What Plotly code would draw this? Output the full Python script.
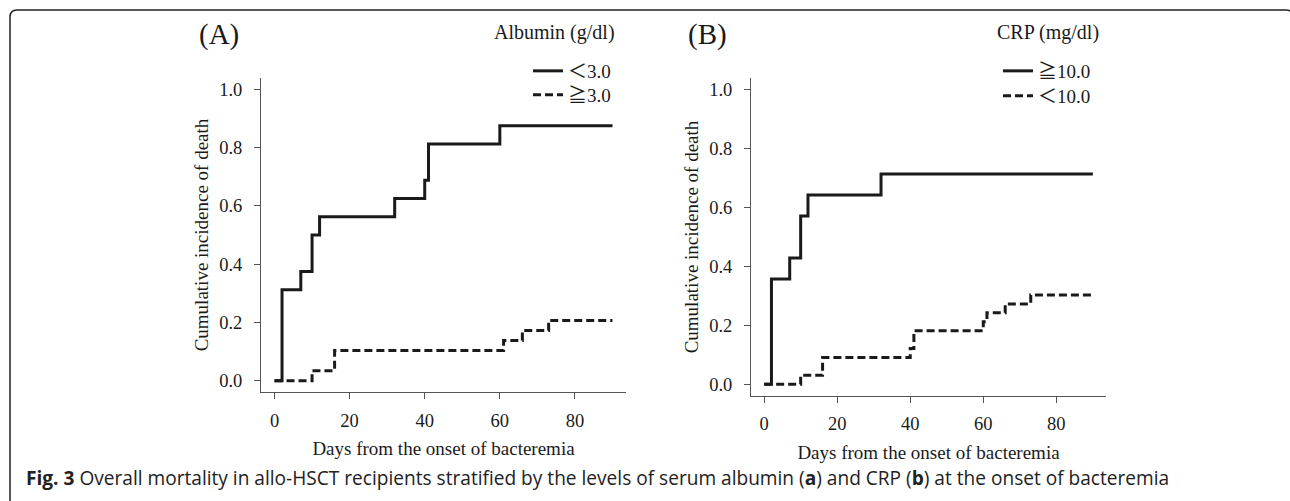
import plotly.graph_objects as go

# ---------------- data ----------------
days_alb_low = [0, 2, 7, 10, 12, 32, 40, 41, 60, 90]
cif_alb_low = [0.0, 0.3125, 0.375, 0.5, 0.5625, 0.625, 0.6875, 0.8125, 0.875, 0.875]

days_alb_high = [0, 10, 16, 61, 66, 73, 90]
cif_alb_high = [0.0, 0.0345, 0.1034, 0.1379, 0.1724, 0.2069, 0.2069]

days_crp_high = [0, 2, 7, 10, 12, 32, 90]
cif_crp_high = [0.0, 0.3571, 0.4286, 0.5714, 0.6429, 0.7143, 0.7143]

days_crp_low = [0, 10, 16, 40, 41, 60, 61, 66, 73, 90]
cif_crp_low = [0.0, 0.0303, 0.0909, 0.1212, 0.1818, 0.2121, 0.2424, 0.2727, 0.3030, 0.3030]

x_ticks = [0, 20, 40, 60, 80]
y_ticks = [0.0, 0.2, 0.4, 0.6, 0.8, 1.0]
y_tick_text = ["0.0", "0.2", "0.4", "0.6", "0.8", "1.0"]

labels_alb = ["＜3.0", "≧3.0"]
labels_crp = ["≧10.0", "＜10.0"]
legend_title_alb = "Albumin (g/dl)"
legend_title_crp = "CRP (mg/dl)"
x_title = "Days from the onset of bacteremia"
y_title = "Cumulative incidence of death"
caption = ("<b>Fig. 3</b> Overall mortality in allo-HSCT recipients stratified by the levels of "
           "serum albumin (<b>a</b>) and CRP (<b>b</b>) at the onset of bacteremia")

# ---------------- layout helpers ----------------
W, H = 1290, 501


def px(x):
    return x / W


def py(y):
    return 1 - y / H


SERIF = "Liberation Serif, Times New Roman, Noto Sans CJK JP, serif"
INK = "#1a1a1a"
AXC = "#555555"
DASH = "8px,4px"
FS_TICK = 18.5
FS_TITLE = 19

fig = go.Figure()

fig.add_trace(go.Scatter(x=days_alb_low, y=cif_alb_low, mode="lines", line_shape="hv",
                         line=dict(color=INK, width=3), name=labels_alb[0],
                         xaxis="x", yaxis="y", legend="legend"))
fig.add_trace(go.Scatter(x=days_alb_high, y=cif_alb_high, mode="lines", line_shape="hv",
                         line=dict(color=INK, width=3, dash=DASH), name=labels_alb[1],
                         xaxis="x", yaxis="y", legend="legend2"))
fig.add_trace(go.Scatter(x=days_crp_high, y=cif_crp_high, mode="lines", line_shape="hv",
                         line=dict(color=INK, width=3), name=labels_crp[0],
                         xaxis="x2", yaxis="y2", legend="legend3"))
fig.add_trace(go.Scatter(x=days_crp_low, y=cif_crp_low, mode="lines", line_shape="hv",
                         line=dict(color=INK, width=3, dash=DASH), name=labels_crp[1],
                         xaxis="x2", yaxis="y2", legend="legend4"))

axis_common = dict(showline=True, linecolor=AXC, linewidth=1, ticks="outside", ticklen=6,
                   tickcolor=AXC, tickwidth=1, showgrid=False, zeroline=False,
                   tickfont=dict(family=SERIF, size=FS_TICK, color=INK), mirror=False)

xcommon = dict(axis_common, range=[-3.6, 93.6], tickvals=x_ticks, ticklabelstandoff=5,
               title=dict(text=x_title, font=dict(family=SERIF, size=FS_TITLE, color=INK), standoff=12))
ycommon = dict(axis_common, range=[-0.04, 1.04], tickvals=y_ticks, ticktext=y_tick_text,
               ticklabelstandoff=8,
               title=dict(text=y_title, font=dict(family=SERIF, size=FS_TITLE, color=INK), standoff=5))


def leg(xpix, ypix):
    return dict(x=px(xpix), y=py(ypix), xanchor="left", yanchor="middle",
                font=dict(family=SERIF, size=FS_TITLE, color=INK), bgcolor="rgba(0,0,0,0)",
                borderwidth=0, itemwidth=30)


fig.update_layout(
    width=W, height=H, autosize=False,
    margin=dict(l=0, r=0, t=0, b=0),
    paper_bgcolor="white", plot_bgcolor="white",
    xaxis=dict(xcommon, domain=[px(261), px(626)], anchor="y"),
    yaxis=dict(ycommon, domain=[py(392.4), py(77.6)], anchor="x"),
    xaxis2=dict(xcommon, domain=[px(751), px(1106)], anchor="y2"),
    yaxis2=dict(ycommon, domain=[py(396), py(78)], anchor="x2"),
    legend=leg(528, 71),
    legend2=leg(528, 95),
    legend3=leg(998, 71),
    legend4=leg(998, 96),
    showlegend=True,
)

annos = [
    dict(text="(A)", x=px(219), y=py(35), font=dict(family=SERIF, size=29, color=INK)),
    dict(text="(B)", x=px(707), y=py(35), font=dict(family=SERIF, size=29, color=INK)),
    dict(text=legend_title_alb, x=px(554), y=py(33), font=dict(family=SERIF, size=20, color=INK)),
    dict(text=legend_title_crp, x=px(1048), y=py(33), font=dict(family=SERIF, size=20, color=INK)),
    dict(text=caption, x=px(24), y=py(478), xanchor="left",
         font=dict(family="Open Sans, Noto Sans, sans-serif", size=19.1, color="#222222")),
]
for a in annos:
    a.setdefault("xanchor", "center")
    fig.add_annotation(xref="paper", yref="paper", yanchor="middle", showarrow=False, **a)

# rounded frame (open at bottom, right side just outside view)
L_, T_, R_, B_, r = 10, 10, 1293, 520, 7
path = (f"M {px(L_)},{py(B_)} L {px(L_)},{py(T_ + r)} Q {px(L_)},{py(T_)} {px(L_ + r)},{py(T_)} "
        f"L {px(R_ - r)},{py(T_)} Q {px(R_)},{py(T_)} {px(R_)},{py(T_ + r)} L {px(R_)},{py(B_)}")
fig.add_shape(type="path", path=path, xref="paper", yref="paper",
              line=dict(color="#222222", width=1.5))

fig.write_html("out.html", config={"displayModeBar": False},
               post_script="document.body.style.margin='0';document.body.style.overflow='hidden';")
